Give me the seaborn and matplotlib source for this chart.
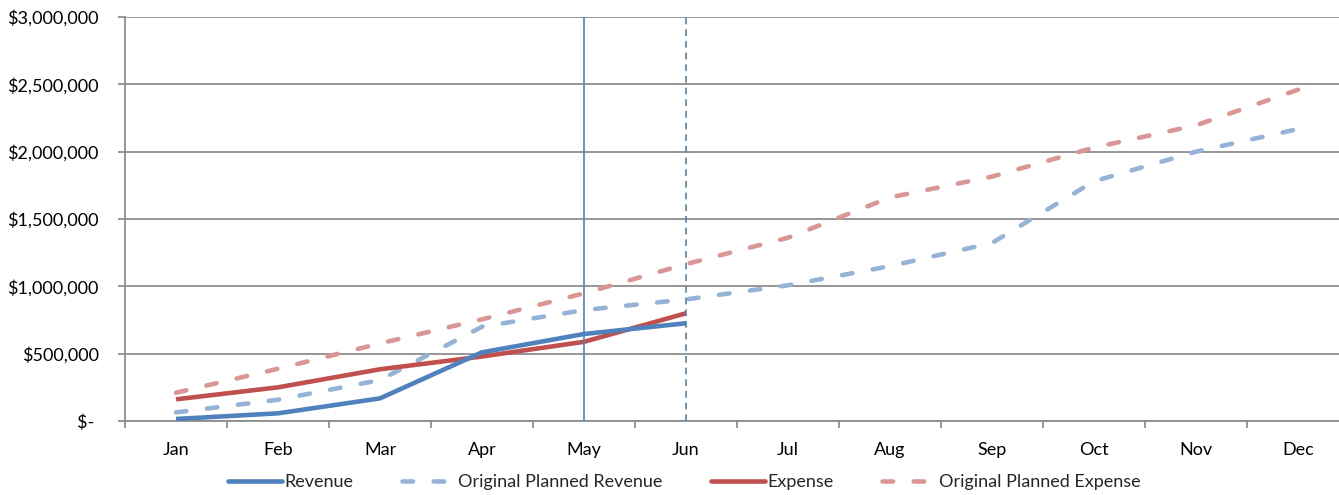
import matplotlib
matplotlib.use("Agg")
import matplotlib.pyplot as plt
import matplotlib.ticker as mticker
from matplotlib.lines import Line2D
import numpy as np
import pandas as pd
import seaborn as sns

# Monthly figures (USD)
months = ["Jan", "Feb", "Mar", "Apr", "May", "Jun",
          "Jul", "Aug", "Sep", "Oct", "Nov", "Dec"]
revenue = [15000, 57000, 168000, 510000, 646000, 726000]
planned_revenue = [64000, 158000, 304000, 700000, 824000, 903000,
                   1008000, 1150000, 1322000, 1780000, 2000000, 2168000]
expense = [161000, 250000, 384000, 479000, 588000, 800000]
planned_expense = [210000, 388000, 576000, 755000, 948000, 1165000,
                   1361000, 1660000, 1815000, 2030000, 2196000, 2460000]
series_names = ["Revenue", "Original Planned Revenue",
                "Expense", "Original Planned Expense"]
current_month = "May"
forecast_month = "Jun"
y_ticks = [0, 500000, 1000000, 1500000, 2000000, 2500000, 3000000]

sns.set_theme(style="white")
plt.rcParams["font.family"] = ["Lato", "DejaVu Sans"]

BLUE = "#4F81BD"
RED = "#C0504D"
LIGHT_BLUE = "#95B3D7"
LIGHT_RED = "#D99694"
GRID = "#8E8E8E"

rows = []
for name, vals in zip(series_names,
                      [revenue, planned_revenue, expense, planned_expense]):
    for i, v in enumerate(vals):
        rows.append({"series": name, "pos": i, "month": months[i], "value": v})
df = pd.DataFrame(rows)

fig = plt.figure(figsize=(13.39, 4.95), dpi=100)
W, H = 1339, 495
ax = fig.add_axes([125 / W, 74 / H, 1224 / W, 404 / H])

styles = {
    "Revenue": dict(color=BLUE, dashes=None),
    "Original Planned Revenue": dict(color=LIGHT_BLUE, dashes=(2.3, 4.5)),
    "Expense": dict(color=RED, dashes=None),
    "Original Planned Expense": dict(color=LIGHT_RED, dashes=(2.3, 4.5)),
}
draw_order = ["Original Planned Expense", "Original Planned Revenue",
              "Expense", "Revenue"]
for name in draw_order:
    sub = df[df["series"] == name]
    st = styles[name]
    sns.lineplot(data=sub, x="pos", y="value", ax=ax, color=st["color"],
                 linewidth=3.3, solid_capstyle="butt", legend=False,
                 sort=True, estimator=None, zorder=3)
    line = ax.lines[-1]
    if st["dashes"] is not None:
        line.set_dashes(st["dashes"])
        line.set_dash_capstyle("round")

# Current-month and forecast markers
ax.axvline(months.index(current_month), color=BLUE, linewidth=1.2, zorder=4)
ax.axvline(months.index(forecast_month), color=BLUE, linewidth=1.2,
           dashes=(4, 3), zorder=4)

ax.set_xlim(-0.5, len(months) - 0.5)
ax.set_ylim(0, 3000000)
ax.set_yticks(y_ticks)


def money(v, _pos):
    if v == 0:
        return "$- "
    return "${:,.0f}".format(v)


ax.yaxis.set_major_formatter(mticker.FuncFormatter(money))
ax.set_xticks(range(len(months)))
ax.set_xticklabels(months)
ax.set_xticks(np.arange(-0.5, len(months), 1.0), minor=True)
ax.tick_params(axis="x", which="major", length=0, pad=15, labelsize=13,
               labelcolor="#000000")
ax.tick_params(axis="x", which="minor", length=5, width=1.3, color=GRID,
               direction="out", bottom=True)
ax.tick_params(axis="y", which="major", length=5, width=1.3, color=GRID,
               direction="out", left=True, pad=14, labelsize=13,
               labelcolor="#000000")

ax.yaxis.grid(True, color=GRID, linewidth=1.3)
ax.xaxis.grid(False)
ax.set_axisbelow(True)
for side in ["top", "right"]:
    ax.spines[side].set_visible(False)
for side in ["left", "bottom"]:
    ax.spines[side].set_color(GRID)
    ax.spines[side].set_linewidth(1.3)
ax.set_xlabel("")
ax.set_ylabel("")

handles = []
for name in series_names:
    st = styles[name]
    h = Line2D([0], [0], color=st["color"], linewidth=3.3)
    if st["dashes"] is not None:
        h.set_dashes(st["dashes"])
        h.set_dash_capstyle("round")
    handles.append(h)
fig.legend(handles, series_names, loc="center", bbox_to_anchor=(684 / W, 13 / H),
           ncol=4, frameon=False, fontsize=13, handlelength=3.0,
           handletextpad=0.15, columnspacing=2.65, borderaxespad=0)

fig.savefig("out.png", dpi=100)
